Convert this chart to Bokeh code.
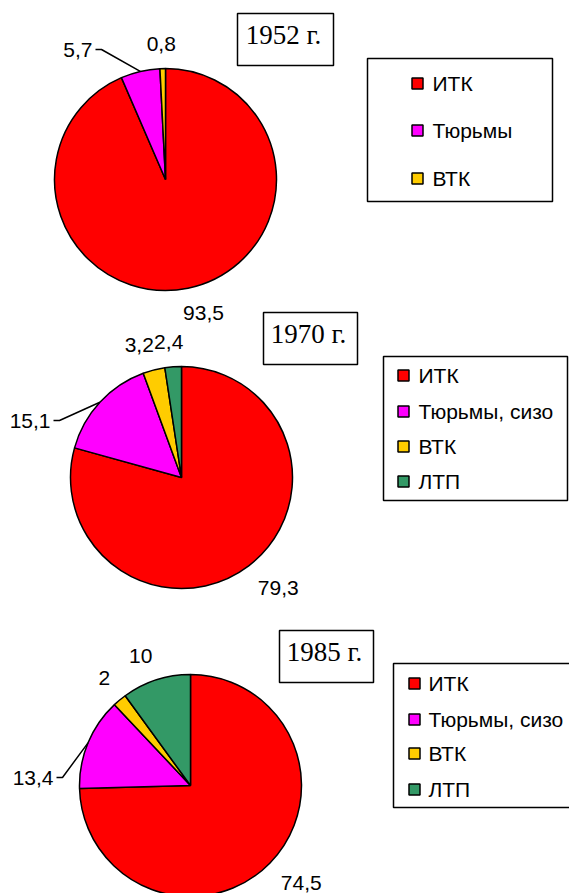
import math
from bokeh.plotting import figure
from bokeh.models import Range1d, ColumnDataSource
from bokeh.core.properties import value
from bokeh.embed import file_html
from bokeh.resources import INLINE

# ---------------- data ----------------
years = ["1952 г.", "1970 г.", "1985 г."]
cats_1952 = ["ИТК", "Тюрьмы", "ВТК"]
vals_1952 = [93.5, 5.7, 0.8]
cats_1970 = ["ИТК", "Тюрьмы, сизо", "ВТК", "ЛТП"]
vals_1970 = [79.3, 15.1, 3.2, 2.4]
cats_1985 = ["ИТК", "Тюрьмы, сизо", "ВТК", "ЛТП"]
vals_1985 = [74.5, 13.4, 2, 10]
colors = ["#FF0000", "#FF00FF", "#FFCC00", "#339966"]

# ---------------- layout (screen pixel coordinates) ----------------
W, H = 569, 893


def Y(ys):
    return H - ys


layouts = [
    dict(center=(165, 179), r=111, tbox=(237, 13, 333, 65), ttext=(283, 34),
         lbox=(367, 58, 552, 201), lmx=417, ltx=432, lys=[83, 130, 178],
         moved={1: (92, 49)}),
    dict(center=(181, 477), r=111, tbox=(263, 312, 357, 364), ttext=(308, 333),
         lbox=(383, 356, 567, 500), lmx=403, ltx=418, lys=[375, 411, 446, 481],
         moved={1: (50, 420)}),
    dict(center=(190, 785), r=111, tbox=(279, 630, 373, 682), ttext=(324, 651),
         lbox=(393, 663, 590, 807), lmx=414, ltx=428, lys=[683, 719, 753, 789],
         moved={1: (53, 777)}),
]
series = [(cats_1952, vals_1952), (cats_1970, vals_1970), (cats_1985, vals_1985)]

LBL_FS = 21
LEG_FS = 21
CHAR_W = {",": 0.278}


def text_w(s, fs):
    return sum(CHAR_W.get(ch, 0.556) for ch in s) * fs


def fmt(v):
    return ("%g" % v).replace(".", ",")


p = figure(width=W, height=H, x_range=Range1d(0, W), y_range=Range1d(0, H),
           output_backend="svg", toolbar_location=None,
           x_axis_type=None, y_axis_type=None, min_border=0)
p.grid.visible = False
p.outline_line_color = None
p.background_fill_color = "white"
p.border_fill_color = "white"

for (cats, vals), L, year in zip(series, layouts, years):
    cx, cy = L["center"]
    r = L["r"]
    total = float(sum(vals))
    starts, ends, cols = [], [], []
    lx, ly, lt = [], [], []
    mx, my, mt = [], [], []
    lead_xs, lead_ys = [], []
    c0 = 0.0
    for i, v in enumerate(vals):
        c1 = c0 + v / total
        starts.append(math.radians(90 - 360 * c1))
        ends.append(math.radians(90 - 360 * c0))
        cols.append(colors[i])
        th = math.radians(360 * (c0 + c1) / 2)
        dx, dy = math.sin(th), -math.cos(th)  # screen direction
        txt = fmt(v)
        if i in L["moved"]:
            ax, ay = L["moved"][i]
            ex, ey = cx + r * dx, cy + r * dy
            mx.append(ax)
            my.append(Y(ay))
            mt.append(txt)
            lead_xs.append([ax + 3, ax + 9, ex])
            lead_ys.append([Y(ay), Y(ay), Y(ey)])
        else:
            w = text_w(txt, LBL_FS)
            h = 20
            px, py = cx + (r + 15) * dx, cy + (r + 15) * dy
            kx = max(-1.0, min(1.0, 3 * dx))
            ky = max(-1.0, min(1.0, 3 * dy))
            lx.append(px + kx * w / 2)
            ly.append(Y(py + ky * h / 2))
            lt.append(txt)
        c0 = c1

    src = ColumnDataSource(dict(start=starts, end=ends, color=cols))
    p.wedge(x=cx, y=Y(cy), radius=r, start_angle="start", end_angle="end",
            fill_color="color", line_color="black", line_width=1.5, source=src)

    if lead_xs:
        p.multi_line(xs=lead_xs, ys=lead_ys, line_color="black", line_width=1.5)
    p.text(x=lx, y=ly, text=lt, text_font=value("Liberation Sans"),
           text_font_size=f"{LBL_FS}px", text_align="center",
           text_baseline="middle", text_color="black")
    if mt:
        p.text(x=mx, y=my, text=mt, text_font=value("Liberation Sans"),
               text_font_size=f"{LBL_FS}px", text_align="right",
               text_baseline="middle", text_color="black")

    # title box
    x0, y0, x1, y1 = L["tbox"]
    p.quad(left=x0, right=x1, top=Y(y0), bottom=Y(y1), fill_color="white",
           line_color="black", line_width=1.5)
    tx, ty = L["ttext"]
    p.text(x=[tx], y=[Y(ty)], text=[year], text_font=value("Liberation Serif"),
           text_font_size="27px", text_align="center", text_baseline="middle",
           text_color="black")

    # legend box
    x0, y0, x1, y1 = L["lbox"]
    p.quad(left=x0, right=x1, top=Y(y0), bottom=Y(y1), fill_color="white",
           line_color="black", line_width=1.5)
    lys = [Y(v) for v in L["lys"]]
    p.rect(x=[L["lmx"]] * len(cats), y=lys, width=11, height=11,
           fill_color=colors[:len(cats)], line_color="black", line_width=1.5)
    p.text(x=[L["ltx"]] * len(cats), y=lys, text=cats,
           text_font=value("Liberation Sans"), text_font_size=f"{LEG_FS}px",
           text_align="left", text_baseline="middle", text_color="black")

open("out.html", "w").write(file_html(p, INLINE))
